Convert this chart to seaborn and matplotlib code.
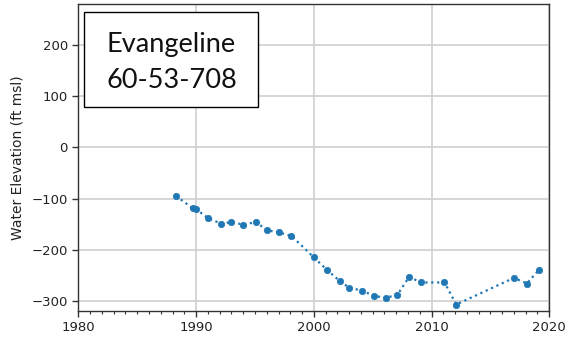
import matplotlib
matplotlib.use("Agg")
import matplotlib.pyplot as plt
import seaborn as sns
import pandas as pd
from matplotlib.patches import Rectangle
from matplotlib.ticker import MultipleLocator

years = [1988.3, 1989.7, 1990.0, 1991.0, 1992.1, 1993.0, 1994.0, 1995.1, 1996.0,
         1997.0, 1998.1, 2000.0, 2001.1, 2002.2, 2003.0, 2004.1, 2005.1, 2006.1,
         2007.1, 2008.1, 2009.1, 2011.1, 2012.1, 2017.0, 2018.1, 2019.1]
elevation = [-95, -119, -121, -138, -149, -146, -151, -146, -162,
             -166, -173, -215, -239, -261, -274, -280, -290, -294,
             -288, -253, -264, -264, -307, -255, -266, -240]
well_name = "Evangeline"
well_id = "60-53-708"

sns.set_style("ticks")
plt.rcParams['font.family'] = ['DejaVu Sans']

df = pd.DataFrame({"year": years, "elev": elevation})

fig = plt.figure(figsize=(5.68, 3.41), dpi=100)
ax = fig.add_axes([0.138, 0.089, 0.829, 0.898])

sns.lineplot(data=df, x="year", y="elev", ax=ax, color="#1f77b4",
             linestyle=":", linewidth=1.6, marker="o", markersize=4.6,
             markeredgecolor="#1f77b4", markeredgewidth=0.5)

ax.set_xlim(1980, 2020)
ax.set_ylim(-319, 279)
ax.xaxis.set_major_locator(MultipleLocator(10))
ax.xaxis.set_minor_locator(MultipleLocator(1))
ax.yaxis.set_major_locator(MultipleLocator(100))
ax.grid(True, which="major", color="#cfcfcf", linewidth=1.2)
ax.set_axisbelow(True)
ax.tick_params(axis="both", which="major", labelsize=9.5, length=4, width=1,
               color="#333333", labelcolor="#222222")
ax.tick_params(axis="x", which="minor", length=2.5, width=0.8, color="#333333")
for s in ax.spines.values():
    s.set_visible(True)
    s.set_color("#333333")
    s.set_linewidth(1.0)
ax.set_xlabel("")
ax.set_ylabel("Water Elevation (ft msl)", fontsize=10, color="#222222", labelpad=5)

ax.add_patch(Rectangle((0.012, 0.665), 0.37, 0.31, transform=ax.transAxes,
                       facecolor="white", edgecolor="black", linewidth=1.0, zorder=5))
ax.text(0.196, 0.845, well_name, transform=ax.transAxes, ha="center", va="baseline",
        fontsize=19.5, family=["Lato", "DejaVu Sans"], color="#111111", zorder=6)
ax.text(0.198, 0.728, well_id, transform=ax.transAxes, ha="center", va="baseline",
        fontsize=19.5, family=["Lato", "DejaVu Sans"], color="#111111", zorder=6)

fig.savefig("out.png", dpi=100)
